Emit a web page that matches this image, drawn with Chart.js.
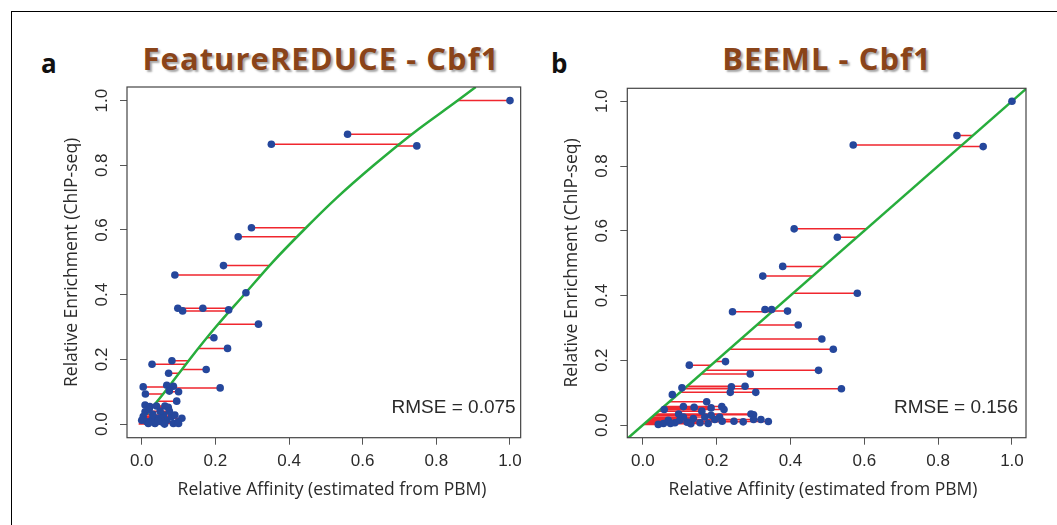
<!DOCTYPE html>
<html><head><meta charset="utf-8">
<script src="https://cdn.jsdelivr.net/npm/chart.js@4.4.0/dist/chart.umd.min.js"></script>
<style>
html,body{margin:0;padding:0;background:#fff;}
#wrap{position:relative;width:1057px;height:525px;overflow:hidden;background:#fff;}
#border{position:absolute;left:11px;top:11px;width:1100px;height:600px;border-left:1.5px solid #000;border-top:1.5px solid #000;}
.cv{position:absolute;top:0;}
.lbl{position:absolute;font-family:"Open Sans";font-weight:bold;color:#111;font-size:26px;line-height:30px;}
.ttl{position:absolute;font-family:"Open Sans";font-weight:bold;color:#8a4419;font-size:31px;letter-spacing:1px;line-height:36px;text-shadow:2px 2px 2px rgba(0,0,0,0.35);white-space:nowrap;transform:translateX(-50%);}
</style></head>
<body>
<div id="wrap">
<div id="border"></div>
<div class="lbl" style="left:41px;top:48px;">a</div>
<div class="lbl" style="left:551px;top:48px;">b</div>
<div class="ttl" id="titleA" style="left:321px;top:40px;"></div>
<div class="ttl" id="titleB" style="left:827px;top:40px;"></div>
<div class="cv" style="left:0px;width:528px;height:525px;"><canvas id="cA" width="528" height="525"></canvas></div>
<div class="cv" style="left:528px;width:529px;height:525px;"><canvas id="cB" width="529" height="525"></canvas></div>
</div>
<script>
// ---- data ----
const titleA = 'FeatureREDUCE - Cbf1';
const titleB = 'BEEML - Cbf1';
const xTitle = 'Relative Affinity (estimated from PBM)';
const yTitle = 'Relative Enrichment (ChIP-seq)';
const rmseA = 'RMSE = 0.075';
const rmseB = 'RMSE = 0.156';
const tickValues = [0, 0.2, 0.4, 0.6, 0.8, 1.0];
const tickLabels = ['0.0', '0.2', '0.4', '0.6', '0.8', '1.0'];

// panel a: FeatureREDUCE affinity vs enrichment
const affinityA = [1.0,0.559,0.352,0.747,0.298,0.262,0.222,0.09,0.283,0.098,0.111,0.166,0.236,0.317,0.196,0.233,0.082,0.028,0.175,0.073,
  0.213,0.004,0.068,0.086,0.075,0.1,0.01,0.095,
  0.009,0.022,0.04,0.063,0.072,0.009,0.004,0.0,0.014,0.027,0.045,0.059,0.068,0.081,0.09,0.086,0.099,0.109,0.054,0.036,0.018,0.1,0.03,0.05,0.075,0.02,0.062,0.045];
const enrichmentA = [1.0,0.896,0.865,0.86,0.607,0.579,0.49,0.461,0.406,0.358,0.35,0.358,0.353,0.309,0.267,0.234,0.196,0.185,0.169,0.157,
  0.112,0.115,0.12,0.117,0.102,0.1,0.093,0.071,
  0.059,0.054,0.056,0.056,0.052,0.038,0.023,0.012,0.007,0.012,0.018,0.028,0.012,0.023,0.028,0.002,0.007,0.018,0.007,0.002,0.002,0.002,0.03,0.04,0.04,0.045,0.0,0.01];
// fitted curve (panel a)
const fitCurveAffinity   = [0.013,0.063,0.130,0.201,0.278,0.355,0.440,0.530,0.630,0.738,0.858,0.907];
const fitCurveEnrichment = [0.03, 0.10, 0.20, 0.30, 0.40, 0.50, 0.60, 0.70, 0.80, 0.90, 1.00, 1.042];

// panel b: BEEML affinity vs enrichment
const affinityB = [1.0,0.851,0.570,0.922,0.41,0.527,0.379,0.325,0.581,0.243,0.331,0.349,0.392,0.421,0.485,0.516,0.224,0.126,0.476,0.291,
  0.106,0.240,0.277,0.538,0.237,0.306,0.080,0.173,
  0.058,0.11,0.139,0.16,0.185,0.214,0.22,0.293,0.3,0.247,0.272,0.32,0.34,0.3,0.042,0.056,0.069,0.087,0.1,0.12,0.137,0.155,0.177,0.195,0.208,0.168,0.097,0.075,0.13,0.185,0.215,0.11];
const enrichmentB = [1.0,0.894,0.865,0.86,0.606,0.58,0.49,0.46,0.407,0.35,0.357,0.357,0.352,0.309,0.266,0.234,0.196,0.185,0.169,0.158,
  0.115,0.118,0.12,0.112,0.101,0.101,0.094,0.072,
  0.048,0.057,0.055,0.043,0.053,0.057,0.048,0.034,0.032,0.012,0.01,0.017,0.011,0.017,0.002,0.005,0.015,0.007,0.015,0.009,0.02,0.007,0.005,0.017,0.025,0.025,0.034,0.005,0.004,0.03,0.012,0.025];
const identityLine = [-0.1, 1.1];

// ---- helpers ----
function curveXAt(y){
  const X = fitCurveAffinity, Y = fitCurveEnrichment;
  let i = Y.length - 2;
  if (y <= Y[0]) i = 0;
  else { for (let k = 0; k < Y.length - 1; k++){ if (y <= Y[k+1]) { i = k; break; } } }
  const t = (y - Y[i]) / (Y[i+1] - Y[i]);
  return X[i] + t * (X[i+1] - X[i]);
}
function residualSegments(xs, ys, targetX){
  const out = [];
  xs.forEach((x, i) => {
    out.push({x: x, y: ys[i]});
    out.push({x: targetX(ys[i]), y: ys[i]});
    out.push({x: x, y: null});
  });
  return out;
}
function pts(xs, ys){ return xs.map((x, i) => ({x: x, y: ys[i]})); }

document.getElementById('titleA').textContent = titleA;
document.getElementById('titleB').textContent = titleB;

const RED = '#f0262e', GREEN = '#27ad3c', BLUE = '#25479c';

const panelPlugin = {
  id: 'panelDecor',
  afterDraw(chart, args, o){
    const ctx = chart.ctx, ca = chart.chartArea, ys = chart.scales.y;
    ctx.save();
    // frame
    ctx.strokeStyle = '#444'; ctx.lineWidth = 1.2;
    ctx.strokeRect(ca.left, ca.top, ca.right - ca.left, ca.bottom - ca.top);
    // y tick labels (rotated)
    ctx.fillStyle = '#2a2a2a';
    ctx.font = '17px "Liberation Sans"';
    ctx.textAlign = 'center'; ctx.textBaseline = 'middle';
    tickValues.forEach((v, i) => {
      const py = ys.getPixelForValue(v);
      ctx.save(); ctx.translate(ca.left - 25, py); ctx.rotate(-Math.PI/2);
      ctx.fillText(tickLabels[i], 0, 0); ctx.restore();
    });
    // axis titles
    ctx.font = '17.5px "Open Sans"';
    ctx.save(); ctx.translate(ca.left - 55, (ca.top + ca.bottom)/2); ctx.rotate(-Math.PI/2);
    ctx.fillText(yTitle, 0, 0); ctx.restore();
    ctx.fillText(xTitle, o.xTitleX, 490);
    // RMSE
    ctx.font = '19px "Liberation Sans"';
    ctx.textAlign = 'right';
    ctx.fillText(o.rmse, ca.right - o.rmseInset, 408);
    ctx.restore();
  }
};

function makeChart(id, xs, ys, lineData, targetX, lim, pad, leftW, decor, lineTension){
  return new Chart(document.getElementById(id), {
    type: 'scatter',
    data: { datasets: [
      { type: 'line', data: residualSegments(xs, ys, targetX), borderColor: RED, borderWidth: 1.5,
        pointRadius: 0, spanGaps: false, showLine: true, order: 3, tension: 0 },
      { type: 'line', data: lineData, borderColor: GREEN, borderWidth: 2.5, pointRadius: 0,
        showLine: true, order: 2, cubicInterpolationMode: lineTension ? 'monotone' : 'default', tension: 0 },
      { data: pts(xs, ys), backgroundColor: BLUE, borderColor: BLUE, pointRadius: 3.8, borderWidth: 0, order: 1 }
    ]},
    options: {
      responsive: false, animation: false, devicePixelRatio: 1,
      layout: { padding: pad },
      plugins: { legend: {display: false}, tooltip: {enabled: false}, panelDecor: decor },
      scales: {
        x: { type: 'linear', min: lim.x0, max: lim.x1,
          afterBuildTicks: s => { s.ticks = tickValues.map(v => ({value: v})); },
          afterFit: s => { s.height = 525 - 437.7; },
          grid: { drawOnChartArea: false, drawTicks: true, tickLength: 7, color: '#555', tickColor: '#555' },
          border: { display: false },
          ticks: { padding: 6, color: '#2a2a2a', font: {family: 'Liberation Sans', size: 17},
            callback: (v) => { const i = tickValues.indexOf(v); return i >= 0 ? tickLabels[i] : ''; } }
        },
        y: { type: 'linear', min: lim.y0, max: lim.y1,
          afterBuildTicks: s => { s.ticks = tickValues.map(v => ({value: v})); },
          afterFit: s => { s.width = leftW; },
          grid: { drawOnChartArea: false, drawTicks: true, tickLength: 7, color: '#555', tickColor: '#555' },
          border: { display: false },
          ticks: { display: false }
        }
      }
    },
    plugins: [panelPlugin]
  });
}

makeChart('cA', affinityA, enrichmentA, pts(fitCurveAffinity, fitCurveEnrichment), curveXAt,
  {x0: -0.04, x1: 1.029, y0: -0.042, y1: 1.042},
  {top: 87, right: 7.3, left: 0, bottom: 0}, 127,
  {xTitleX: 332, rmse: rmseA, rmseInset: 5}, true);

makeChart('cB', affinityB, enrichmentB, pts(identityLine, identityLine), (y) => y,
  {x0: -0.042, x1: 1.038, y0: -0.039, y1: 1.040},
  {top: 88.3, right: 31, left: 0, bottom: 0}, 99.3,
  {xTitleX: 823 - 528, rmse: rmseB, rmseInset: 8}, false);
</script>
</body></html>
